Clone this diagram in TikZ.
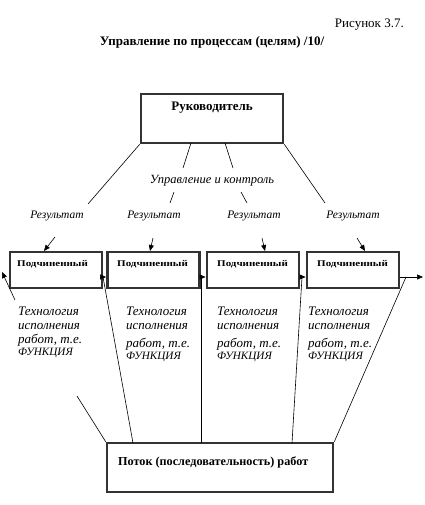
\documentclass[tikz,border=0pt]{standalone}
\usepackage{fontspec}
\setmainfont{Liberation Serif}
\newfontfamily\widefont[FakeStretch=1.25]{Liberation Serif}
\usetikzlibrary{arrows.meta}
\newcommand{\capsline}[1]{{\fontsize{11.2}{14}\selectfont #1}}
\begin{document}
\begin{tikzpicture}[x=1pt,y=-1pt,
  bigbox/.style={draw=black!80, line width=2.6pt, rectangle, inner sep=0pt},
  subbox/.style={draw=black!80, line width=2.8pt, rectangle, inner sep=0pt, minimum width=92pt, minimum height=36pt},
  conn/.style={line width=0.6pt},
  arr/.style={line width=0.6pt, -{Triangle[length=6pt,width=5pt]}},
  lbl/.style={font=\itshape\fontsize{11.5}{13}\selectfont, inner sep=0pt},
  tech/.style={font=\itshape\fontsize{13}{14}\selectfont, inner sep=0pt, align=left, anchor=north west},
  subtxt/.style={font=\widefont\bfseries\fontsize{8.8}{10}\selectfont, inner sep=0pt, anchor=west}
]
\useasboundingbox (0,0) rectangle (424,505);

% titles
\node[anchor=east, inner sep=0pt, font=\fontsize{13}{15}\selectfont] (fig) at (404,25) {Рисунок 3.7.};
\node[inner sep=0pt, font=\bfseries\fontsize{13}{15}\selectfont] (title) at (212,42) {Управление по процессам (целям) /10/};

% top box
\node[bigbox, minimum width=142pt, minimum height=49pt] (boss) at (212,118.5) {};
\node[inner sep=0pt, font=\bfseries\fontsize{13}{15}\selectfont] (bosst) at (212,108) {Руководитель};

% bottom box
\node[bigbox, minimum width=226pt, minimum height=49pt] (flow) at (220,467.5) {};
\node[inner sep=0pt, anchor=west, font=\bfseries\fontsize{12.2}{14}\selectfont] (flowt) at (118,462) {Поток (последовательность) работ};

% subordinate boxes
\node[subbox] (s1) at (56,270) {};
\node[subbox] (s2) at (153.5,270) {};
\node[subbox] (s3) at (253,270) {};
\node[subbox] (s4) at (353,270) {};
\node[subtxt] (s1t) at (17,264) {Подчиненный};
\node[subtxt] (s2t) at (117,264) {Подчиненный};
\node[subtxt] (s3t) at (217,264) {Подчиненный};
\node[subtxt] (s4t) at (317,264) {Подчиненный};

% labels
\node[lbl, font=\itshape\fontsize{12.5}{14}\selectfont] (ctrl) at (212,180.5) {Управление и контроль};
\node[lbl] (r1) at (57,216) {Результат};
\node[lbl] (r2) at (154,216) {Результат};
\node[lbl] (r3) at (254,216) {Результат};
\node[lbl] (r4) at (353,216) {Результат};

\node[tech] (t1) at (18,307) {Технология\\исполнения\\работ, т.е.\\[-2pt]\capsline{ФУНКЦИЯ}};
\node[tech] (t2) at (126,307) {Технология\\исполнения\\[4pt]работ, т.е.\\[-2pt]\capsline{ФУНКЦИЯ}};
\node[tech] (t3) at (217,307) {Технология\\исполнения\\[4pt]работ, т.е.\\[-2pt]\capsline{ФУНКЦИЯ}};
\node[tech] (t4) at (308,307) {Технология\\исполнения\\[4pt]работ, т.е.\\[-2pt]\capsline{ФУНКЦИЯ}};

% coordinates for free ends
\coordinate (a1) at (88,204);
\coordinate (a2u) at (183,168); \coordinate (a2l) at (174,192); \coordinate (a2e) at (170,203);
\coordinate (a3u) at (233,168); \coordinate (a3l) at (241,192); \coordinate (a3e) at (247,203);
\coordinate (a4) at (325,203);
\coordinate (b1s) at (55,237); \coordinate (b1e) at (44,251);
\coordinate (b2s) at (153,238); \coordinate (b2e) at (150,251);
\coordinate (b3s) at (262,238); \coordinate (b3e) at (265,251);
\coordinate (b4s) at (357,238); \coordinate (b4e) at (365,251);

% top connectors
\draw[conn] (boss.south west) -- (a1);
\draw[conn] (191,143) -- (a2u);
\draw[conn] (a2l) -- (a2e);
\draw[conn] (225,143) -- (a3u);
\draw[conn] (a3l) -- (a3e);
\draw[conn] (boss.south east) -- (a4);
\draw[arr] (b1s) -- (b1e);
\draw[arr] (b2s) -- (b2e);
\draw[arr] (b3s) -- (b3e);
\draw[arr] (b4s) -- (b4e);

% horizontal flow arrows
\coordinate (m12) at (103,277);
\coordinate (m23) at (201,277);
\coordinate (m34) at (302,277);
\coordinate (mout) at (406,277);
\coordinate (outend) at (423,277);
\draw[arr] (s1.east |- m12) -- (s2.west |- m12);
\draw[arr] (s2.east |- m23) -- (s3.west |- m23);
\draw[arr] (s3.east |- m34) -- (s4.west |- m34);
\draw[arr] (s4.east |- mout) -- (outend);

% bottom connectors
\coordinate (c1u) at (77,396);
\coordinate (c1l) at (15,300);
\coordinate (c1e) at (2,272);
\draw[conn] (flow.north west) -- (c1u);
\draw[arr] (c1l) -- (c1e);
\draw[conn] (133,443) -- (m12);
\draw[conn] (201,443) -- (m23);
\draw[conn] (292,443) -- (m34);
\draw[conn] (flow.north east) -- (mout);
\end{tikzpicture}
\end{document}
